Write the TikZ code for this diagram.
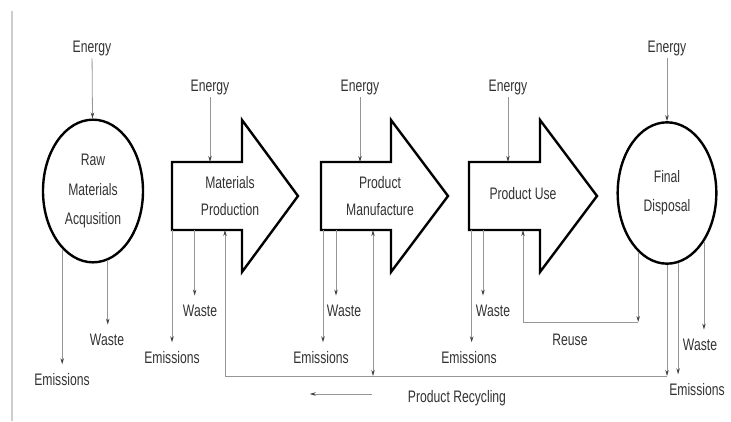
\documentclass[tikz,border=0pt]{standalone}
\usepackage{fontspec}
\setmainfont{Liberation Sans}[FakeStretch=0.73]
\usetikzlibrary{arrows.meta,shapes.geometric}

\begin{document}
\begin{tikzpicture}[x=0.75pt, y=-0.75pt, >={Stealth[length=4.5pt,width=2.6pt,color=black!75]},
  stage/.style={draw=black, line width=1.8pt, line join=miter},
  stagetext/.style={text=textcolor, align=center, font=\fontsize{12.5}{20}\selectfont, inner sep=0pt},
  stagecircle/.style={ellipse, draw=black, line width=1.8pt, inner sep=0pt, text=textcolor, align=center, font=\fontsize{12.5}{22}\selectfont},
  flowlabel/.style={text=textcolor, font=\fontsize{12.5}{14}\selectfont, inner sep=2pt},
  flow/.style={->, draw=flowcolor, line width=0.6pt},
  outflow/.style={flow, shorten >=5pt}]

\definecolor{flowcolor}{RGB}{150, 150, 150}
\definecolor{textcolor}{RGB}{50, 50, 50}
\definecolor{bordercolor}{RGB}{205, 205, 205}

\useasboundingbox (0, 0) rectangle (731, 421);
\draw[bordercolor, line width=1pt] (12, 11) -- (12, 421);

\node[stagecircle, minimum width=75pt, minimum height=107pt] (raw) at (93, 191) {Raw\\Materials\\Acqusition};

\draw[stage] (172, 230) coordinate (matl-sw) -- (172, 162) coordinate (matl-nw) -- (242, 162) -- (242, 120) -- (298, 196) -- (242, 272) -- (242, 230) -- cycle;
\node[stagetext] (matl) at (230, 196) {Materials\\Production};

\draw[stage] (321, 230) coordinate (manu-sw) -- (321, 162) coordinate (manu-nw) -- (391, 162) -- (391, 120) -- (448, 196) -- (391, 272) -- (391, 230) -- cycle;
\node[stagetext] (manu) at (380, 196) {Product\\Manufacture};

\draw[stage] (469, 230) coordinate (use-sw) -- (469, 162) coordinate (use-nw) -- (540, 162) -- (540, 120) -- (597, 196) -- (540, 272) -- (540, 230) -- cycle;
\node[stagetext] (use) at (523, 194) {Product Use};

\node[stagecircle, minimum width=74pt, minimum height=106pt] (disp) at (667, 193) {Final\\Disposal};

\node[flowlabel] (en1) at (92, 48) {Energy};
\node[flowlabel] (en2) at (210, 87) {Energy};
\node[flowlabel] (en3) at (360, 87) {Energy};
\node[flowlabel] (en4) at (508, 87) {Energy};
\node[flowlabel] (en5) at (667, 48) {Energy};
\draw[flow] (en1) -- (raw);
\draw[flow] (en2) -- (en2 |- matl-nw);
\draw[flow] (en3) -- (en3 |- manu-nw);
\draw[flow] (en4) -- (en4 |- use-nw);
\draw[flow] (en5) -- (disp);

\node[flowlabel] (em1) at (62, 380) {Emissions};
\node[flowlabel] (wa1) at (107, 340) {Waste};
\draw[outflow] (raw.242) -- (raw.242 |- em1.north);
\draw[outflow] (raw.282) -- (raw.282 |- wa1.north);

\node[flowlabel] (em2) at (172, 358) {Emissions};
\node[flowlabel] (wa2) at (200, 311) {Waste};
\draw[outflow] (em2 |- matl-sw) -- (em2);
\draw[outflow] ([xshift=-4pt]wa2.north |- matl-sw) -- ([xshift=-4pt]wa2.north);

\node[flowlabel] (em3) at (321, 358) {Emissions};
\node[flowlabel] (wa3) at (344, 311) {Waste};
\draw[outflow] ([xshift=1.5pt]em3.north |- manu-sw) -- ([xshift=1.5pt]em3.north);
\draw[outflow] ([xshift=-6pt]wa3.north |- manu-sw) -- ([xshift=-6pt]wa3.north);

\node[flowlabel] (em4) at (469, 358) {Emissions};
\node[flowlabel] (wa4) at (493, 311) {Waste};
\draw[outflow] ([xshift=2pt]em4.north |- use-sw) -- ([xshift=2pt]em4.north);
\draw[outflow] ([xshift=-7.5pt]wa4.north |- use-sw) -- ([xshift=-7.5pt]wa4.north);

\node[flowlabel] (em5) at (697, 390) {Emissions};
\node[flowlabel] (wa5) at (700, 345) {Waste};
\draw[outflow] (disp.279) -- (disp.279 |- em5.north);
\draw[outflow] (disp.307) -- (disp.307 |- wa5.north);

\coordinate (reuse) at (523, 322);
\draw[flow] (disp.244) -- (disp.244 |- reuse);
\draw[flow] (disp.244 |- reuse) -- (reuse) -- (reuse |- use-sw);
\node[flowlabel] (reuselab) at (570, 340) {Reuse};

\coordinate (recyc) at (225, 376);
\coordinate (recyc2) at (373, 376);
\draw[flow] (disp.south) -- (disp.south |- recyc);
\draw[flow] (disp.south |- recyc) -- (recyc) -- (recyc |- matl-sw);
\draw[flow, <->] (recyc2 |- manu-sw) -- (recyc2);
\node[flowlabel] (reclab) at (457, 398) {Product Recycling};
\draw[flow] ([xshift=-25pt, yshift=3pt]reclab.west) -- ++(-62, 0);

\end{tikzpicture}
\end{document}
